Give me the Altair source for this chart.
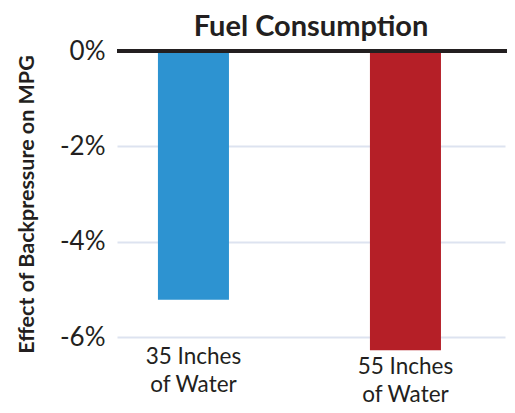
import altair as alt
import pandas as pd

categories = ["35 Inches of Water", "55 Inches of Water"]
values = [-5.22, -6.28]
colors = ["#2d93d1", "#b51f27"]
y_ticks = [0, -2, -4, -6]

df = pd.DataFrame({"cat": categories, "val": values, "color": colors})

FONT = "Lato"
TXT = "#231f20"

x_enc = alt.X(
    "cat:N",
    sort=categories,
    scale=alt.Scale(paddingInner=0.665, paddingOuter=0.2476, align=0.39),
    axis=alt.Axis(
        title=None,
        domain=False,
        ticks=False,
        labelAngle=0,
        labelFont=FONT,
        labelFontSize=22.5,
        labelColor=TXT,
        labelLineHeight=28,
        labelBaseline="top",
        labelExpr="[substring(datum.label, 0, 9), substring(datum.label, 10)]",
        labelPadding={"condition": {"test": "datum.index == 1", "value": 18}, "value": 8},
    ),
)

bars = alt.Chart(df).mark_bar().encode(
    x=x_enc,
    y=alt.Y(
        "val:Q",
        scale=alt.Scale(domain=[-6, 0], nice=False, clamp=False),
        axis=alt.Axis(
            values=y_ticks,
            title="Effect of Backpressure on MPG",
            titleFont=FONT,
            titleFontSize=21.5,
            titleFontWeight="bold",
            titleColor=TXT,
            titleX=-84,
            titleY=153,
            titleBaseline="alphabetic",
            titleAlign="center",
            titleAngle=270,
            labelExpr="datum.value + '%'",
            labelFont=FONT,
            labelFontSize=26,
            labelColor=TXT,
            labelPadding=12,
            ticks=False,
            domain=False,
            grid=True,
            gridColor="#dde3f0",
            gridWidth=2,
        ),
    ),
    color=alt.Color("color:N", scale=None),
)

zero = alt.Chart(df).mark_rule(color="#231f20", strokeWidth=4).encode(
    y=alt.datum(0), x=alt.value(0), x2=alt.value(391)
)

chart = (
    alt.layer(bars, zero)
    .properties(
        width=388,
        height=286,
        title=alt.TitleParams(
            "Fuel Consumption",
            font=FONT,
            fontSize=29,
            fontWeight="bold",
            color=TXT,
            offset=-4,
        ),
        autosize=alt.AutoSizeParams(type="none"),
        padding={"left": 109, "top": 43, "right": 2, "bottom": 68},
    )
    .configure_view(stroke=None)
)

chart.save("out.html", embed_options={"renderer": "svg", "actions": False})
